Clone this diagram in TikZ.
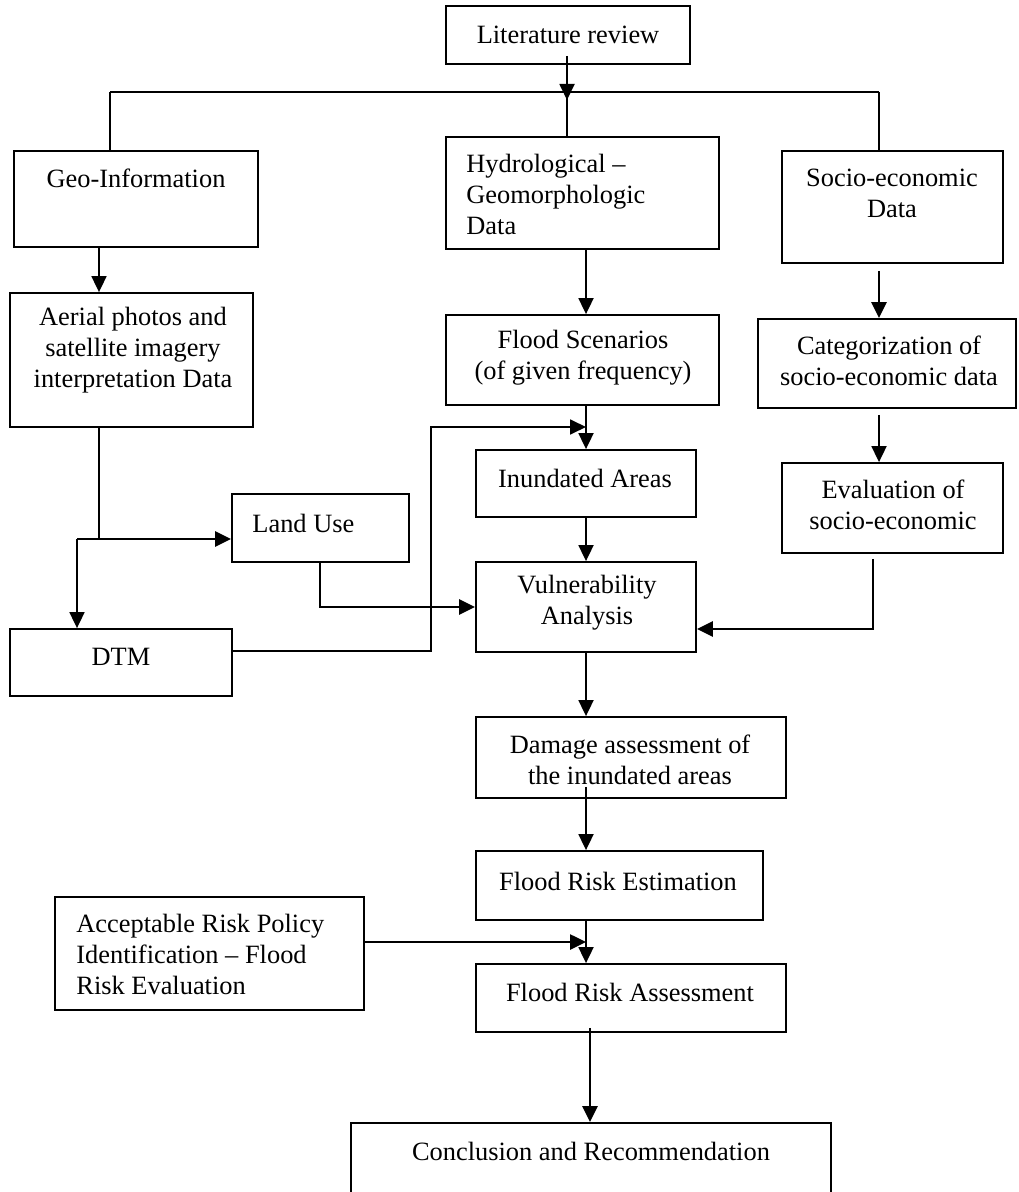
\documentclass[tikz,border=0pt]{standalone}
\usepackage{fontspec}
\setmainfont{Liberation Serif}
\usetikzlibrary{arrows.meta,fit,calc}
\begin{document}
\begin{tikzpicture}[x=0.5pt,y=-0.5pt,
  font=\fontsize{13.2}{15.5}\selectfont,
  box/.style={draw,line width=0.9pt,inner sep=0pt},
  txt/.style={inner sep=0pt,align=center},
  ltxt/.style={inner sep=0pt,align=left,anchor=west},
  conn/.style={line width=0.9pt},
  arr/.style={line width=0.9pt,-{Triangle[length=8pt,width=7.5pt]}},
  tarr/.style={line width=1.3pt,-{Triangle[length=8pt,width=7.5pt]}}]
\useasboundingbox (0,0) rectangle (1018,1192);
% boxes
\node[box,fit={(446,6)(690,64)}] (lit) {};
\node[box,fit={(14,151)(258,247)}] (geo) {};
\node[box,fit={(446,137)(719,249)}] (hydro) {};
\node[box,fit={(782,151)(1003,263)}] (socio) {};
\node[box,fit={(10,293)(253,427)}] (aerial) {};
\node[box,fit={(446,315)(719,405)}] (flood) {};
\node[box,fit={(758,319)(1016,408)}] (cat) {};
\node[box,fit={(476,450)(696,517)}] (inund) {};
\node[box,fit={(782,463)(1003,553)}] (eval) {};
\node[box,fit={(232,494)(409,562)}] (landuse) {};
\node[box,fit={(476,562)(696,652)}] (vuln) {};
\node[box,fit={(10,629)(232,696)}] (dtm) {};
\node[box,fit={(476,717)(786,798)}] (damage) {};
\node[box,fit={(476,851)(763,920)}] (est) {};
\node[box,fit={(55,897)(364,1010)}] (accept) {};
\node[box,fit={(476,964)(786,1032)}] (assess) {};
\node[box,fit={(351,1123)(831,1205)}] (concl) {};
% texts
\node[txt] (tlit) at (568,35) {Literature review};
\node[txt] (tgeo) at (136,178) {Geo-Information};
\node[ltxt] (thydro) at (466,194) {Hydrological –\\Geomorphologic\\Data};
\node[txt] (tsocio) at (892,193) {Socio-economic\\Data};
\node[txt] (taerial) at (133,350) {Aerial photos and\\satellite imagery\\interpretation Data};
\node[txt] (tflood) at (583,358) {Flood Scenarios\\(of given frequency)};
\node[txt] (tcat) at (889,361) {Categorization of\\socio-economic data};
\node[txt] (tinund) at (585,478) {Inundated Areas};
\node[txt] (teval) at (893,505) {Evaluation of\\socio-economic};
\node[ltxt] (tland) at (252,523) {Land Use};
\node[txt] (tvuln) at (587,603) {Vulnerability\\Analysis};
\node[txt] (tdtm) at (121,657) {DTM};
\node[txt] (tdamage) at (630,760) {Damage assessment of\\the inundated areas};
\node[txt] (test) at (618,881) {Flood Risk Estimation};
\node[ltxt] (taccept) at (76,954) {Acceptable Risk Policy\\Identification – Flood\\Risk Evaluation};
\node[txt] (tassess) at (630,992) {Flood Risk Assessment};
\node[txt] (tconcl) at (591,1151) {Conclusion and Recommendation};
% helper coordinates
\coordinate (hl) at (110,92);
\coordinate (hr) at (879,92);
\coordinate (hm) at (567,92);
\coordinate (hmt) at (567,100);
\coordinate (cA) at (99,0);
\coordinate (cC) at (586,0);
\coordinate (cS) at (879,0);
\coordinate (cD) at (590,0);
\coordinate (j1) at (99,539);
\coordinate (j0) at (77,539);
\coordinate (c2) at (320,607);
\coordinate (d1) at (431,651);
\coordinate (d2) at (431,427);
\coordinate (e1) at (873,629);
\coordinate (a1) at (586,942);
% connectors
\draw[conn] (hl) -- (hr);
\draw[conn] (hl) -- (hl |- geo.north);
\draw[conn] (hr) -- (hr |- socio.north);
\draw[arr] ($(lit.south -| hm)+(0,-9)$) -- (hmt);
\draw[conn] (hm) -- (hm |- hydro.north);
\draw[arr] (geo.south -| cA) -- (aerial.north -| cA);
\draw[arr] (hydro.south -| cC) -- (flood.north -| cC);
\draw[tarr] ($(socio.south -| cS)+(0,7)$) -- (cat.north -| cS);
\draw[arr] ($(cat.south -| cS)+(0,6)$) -- (eval.north -| cS);
\draw[arr] (flood.south -| cC) -- (inund.north -| cC);
\draw[arr] (inund.south -| cC) -- (vuln.north -| cC);
\draw[conn] (aerial.south -| j1) -- (j1);
\draw[tarr] (j1) -- (j1 -| landuse.west);
\draw[conn] (j0) -- (j1);
\draw[arr] (j0) -- (j0 |- dtm.north);
\draw[tarr] (landuse.south -| c2) -- (c2) -- (c2 -| vuln.west);
\draw[arr] (dtm.east |- d1) -- (d1) -- (d2) -- (d2 -| cC);
\draw[tarr] ($(eval.south -| e1)+(0,5)$) -- (e1) -- (e1 -| vuln.east);
\draw[arr] (vuln.south -| cC) -- (damage.north -| cC);
\draw[arr] ($(damage.south -| cC)+(0,-12)$) -- (est.north -| cC);
\draw[arr] (est.south -| cC) -- (assess.north -| cC);
\draw[tarr] (accept.east |- a1) -- (a1);
\draw[tarr] ($(assess.south -| cD)+(0,-5)$) -- (concl.north -| cD);
\end{tikzpicture}
\end{document}
